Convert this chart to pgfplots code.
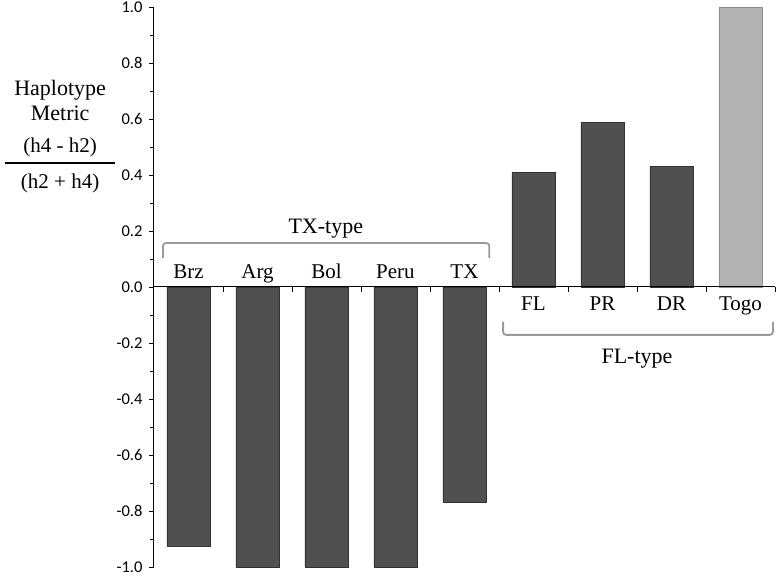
\documentclass[border=0pt]{standalone}
\usepackage{pgfplots}
\pgfplotsset{compat=1.18}
\usepackage{fontspec}
\setmainfont{Liberation Serif}
\newfontfamily\calibri{Carlito}
\definecolor{barfill}{HTML}{505050}
\definecolor{baredge}{HTML}{333333}
\definecolor{togofill}{HTML}{B3B3B3}
\definecolor{togoedge}{HTML}{8C8C8C}
\definecolor{brace}{HTML}{9A9A9A}
\tikzset{catlab/.style={font=\fontsize{21}{24}\selectfont, anchor=base}}

\begin{document}
\begin{tikzpicture}
\path[use as bounding box] (-154pt,-9pt) rectangle (625pt,567pt);
\begin{axis}[
  at={(0,0)}, anchor=south west,
  scale only axis,
  width=621pt, height=560pt,
  xmin=0, xmax=9,
  ymin=-1, ymax=1,
  clip=false,
  axis on top=true,
  axis x line*=middle,
  axis y line*=left,
  ybar, bar width=43pt, bar shift=0pt,
  xtick={1,...,9},
  xticklabels={},
  ytick={-1,-0.8,...,1},
  minor y tick num=1,
  tick align=outside,
  major tick length=5pt,
  minor tick length=3.5pt,
  tick style={black, line width=0.8pt},
  axis line style={black, line width=1pt},
  /pgf/number format/assume math mode=true,
  /pgf/number format/fixed,
  /pgf/number format/fixed zerofill,
  /pgf/number format/precision=1,
  yticklabel style={font=\calibri\fontsize{16.5}{16.5}\selectfont, xshift=-3pt},
]
\addplot[fill=barfill, draw=baredge, line width=0.8pt] coordinates {
  (0.5,-0.927) (1.5,-1.0) (2.5,-1.0) (3.5,-1.0) (4.5,-0.768)
  (5.5,0.409) (6.5,0.588) (7.5,0.431)
};
\addplot[fill=togofill, draw=togoedge, line width=0.8pt] coordinates {
  (8.5,1.0)
};
% category labels
\node[catlab] at (axis cs:0.5,0.03) {Brz};
\node[catlab] at (axis cs:1.5,0.03) {Arg};
\node[catlab] at (axis cs:2.5,0.03) {Bol};
\node[catlab] at (axis cs:3.5,0.03) {Peru};
\node[catlab] at (axis cs:4.5,0.03) {TX};
\node[catlab] at (axis cs:5.5,-0.083) {FL};
\node[catlab] at (axis cs:6.5,-0.083) {PR};
\node[catlab] at (axis cs:7.5,-0.083) {DR};
\node[catlab] at (axis cs:8.5,-0.083) {Togo};
% group brackets
\draw[brace, line width=1.8pt, rounded corners=3pt]
  (axis cs:0.13,0.104) -- (axis cs:0.13,0.157) -- (axis cs:4.86,0.157) -- (axis cs:4.86,0.104);
\draw[brace, line width=1.8pt, rounded corners=3pt]
  (axis cs:5.06,-0.125) -- (axis cs:5.06,-0.171) -- (axis cs:8.97,-0.171) -- (axis cs:8.97,-0.125);
\node[catlab, font=\fontsize{22}{24}\selectfont] at (axis cs:2.49,0.19) {TX-type};
\node[catlab, font=\fontsize{22}{24}\selectfont] at (axis cs:7.0,-0.275) {FL-type};
% y label
\node[font=\fontsize{22}{25}\selectfont, align=center] at (axis cs:-1.36,0.666) {Haplotype\\Metric};
\node[font=\fontsize{21}{24}\selectfont] at (axis cs:-1.36,0.497) {(h4 - h2)};
\draw[black, line width=1.5pt] (axis cs:-2.16,0.443) -- (axis cs:-0.565,0.443);
\node[font=\fontsize{21}{24}\selectfont] at (axis cs:-1.36,0.371) {(h2 + h4)};
\end{axis}
\end{tikzpicture}
\end{document}
